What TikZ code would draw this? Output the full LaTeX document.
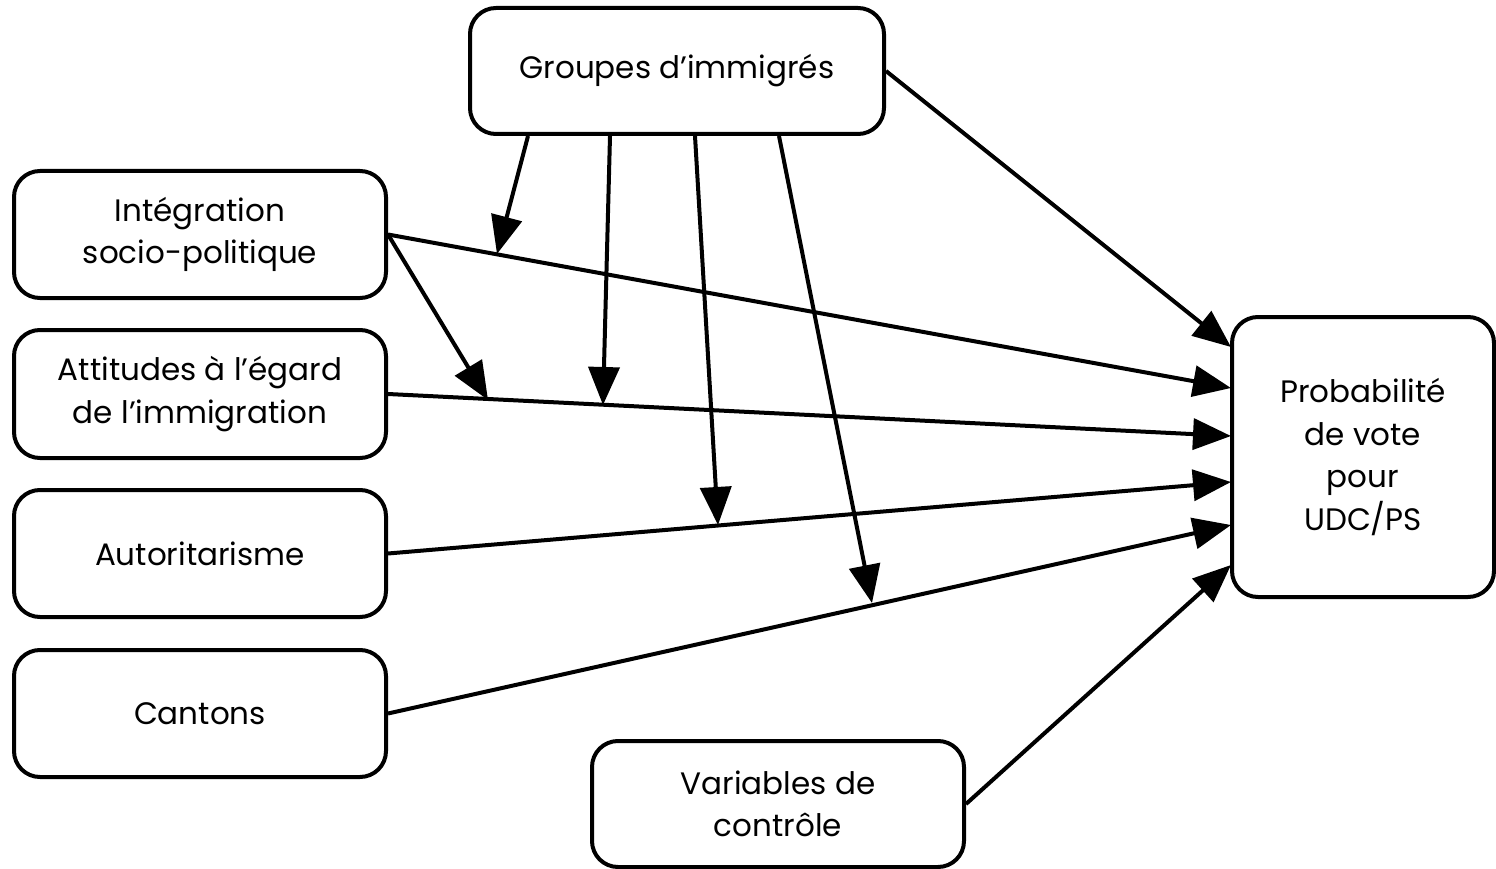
\documentclass[tikz,border=0pt]{standalone}
\usepackage{fontspec}
\setmainfont{Poppins}
\usetikzlibrary{arrows.meta}
\begin{document}
\begin{tikzpicture}[x=1pt,y=-1pt,
  box/.style={draw, line width=4pt, rounded corners=26pt, align=center, inner sep=0pt,
    font=\fontsize{31}{42.5}\selectfont},
  conn/.style={line width=4pt, -{Triangle[length=38pt,width=31pt]}}]
\useasboundingbox (0,0) rectangle (1496,869);
\node[box, minimum width=414pt, minimum height=126pt] (grp) at (677,71) {Groupes d’immigrés};
\node[box, minimum width=372pt, minimum height=127pt] (int) at (200,234.5) {Intégration\\socio-politique};
\node[box, minimum width=372pt, minimum height=128pt] (att) at (200,394) {Attitudes à l’égard\\de l’immigration};
\node[box, minimum width=372pt, minimum height=127pt] (aut) at (200,553.5) {Autoritarisme};
\node[box, minimum width=372pt, minimum height=127pt] (can) at (200,713.5) {Cantons};
\node[box, minimum width=372pt, minimum height=126pt] (var) at (778,804) {Variables de\\contrôle};
\node[box, minimum width=262pt, minimum height=280pt] (prob) at (1363,457) {Probabilité\\de vote\\pour\\UDC/PS};
% entry points on the outcome box
\coordinate (p1) at (1231,347);
\coordinate (p2) at (1231,388);
\coordinate (p3) at (1231,436);
\coordinate (p4) at (1231,482);
\coordinate (p5) at (1231,525);
\coordinate (p6) at (1231,565);
% exit points on the bottom of Groupes
\coordinate (g1) at (528,136);
\coordinate (g2) at (610,136);
\coordinate (g3) at (695,136);
\coordinate (g4) at (779,136);
% moderation targets on the paths
\coordinate (m1) at (497,254);
\coordinate (m2) at (488,400);
\coordinate (m3) at (603,405);
\coordinate (m4) at (718,525);
\coordinate (m5) at (872,603);
\draw[conn] (grp.east) -- (p1);
\draw[conn] (int.east) -- (p2);
\draw[conn] (att.east) -- (p3);
\draw[conn] (aut.east) -- (p4);
\draw[conn] (can.east) -- (p5);
\draw[conn] (var.east) -- (p6);
\draw[conn] (int.east) -- (m2);
\draw[conn] (g1) -- (m1);
\draw[conn] (g2) -- (m3);
\draw[conn] (g3) -- (m4);
\draw[conn] (g4) -- (m5);
\end{tikzpicture}
\end{document}
